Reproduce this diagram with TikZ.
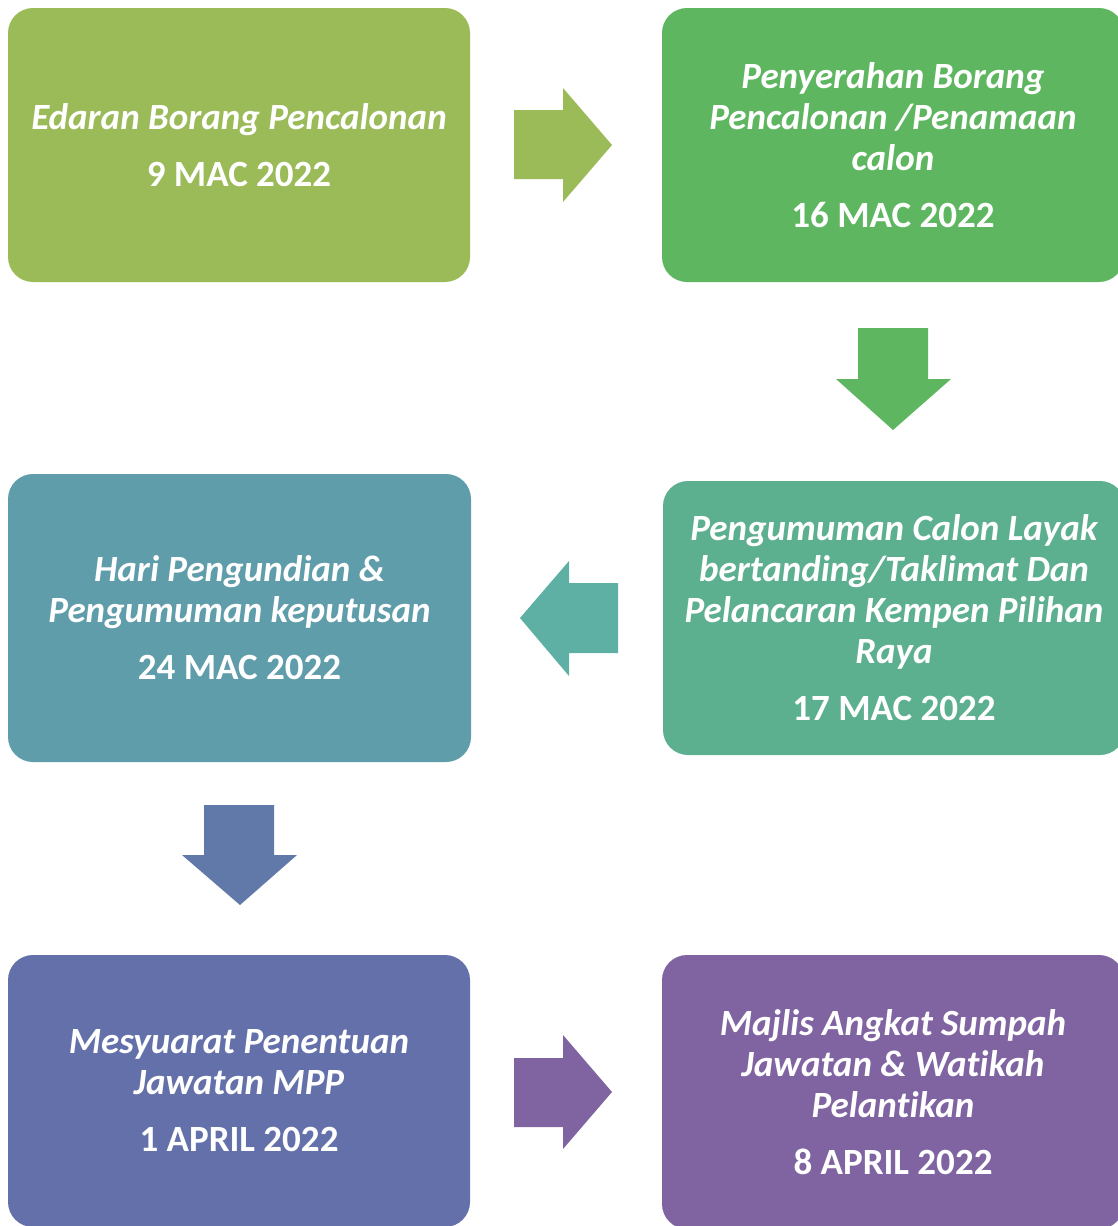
\documentclass[tikz,border=0pt]{standalone}
\usepackage{fontspec}
\setmainfont[Ligatures=CommonOff]{Carlito}
\definecolor{cA}{HTML}{9BBB59}
\definecolor{cB}{HTML}{5FB660}
\definecolor{cC}{HTML}{5DB08F}
\definecolor{cCa}{HTML}{5EB0A5}
\definecolor{cD}{HTML}{609DAB}
\definecolor{cDa}{HTML}{6179A9}
\definecolor{cE}{HTML}{6470A9}
\definecolor{cF}{HTML}{8064A2}
\newcommand{\ttlfont}{\fontsize{37}{41}\selectfont\bfseries\itshape}
\newcommand{\dtfont}{\fontsize{37}{41}\selectfont\bfseries\upshape}
\begin{document}
\begin{tikzpicture}[x=1pt,y=-1pt]
\tikzset{
  stagebox/.style={rounded corners=25pt, fill=#1, text=white, align=center,
    minimum width=462pt, minimum height=274pt, inner sep=0pt, font=\ttlfont},
  bigarrow/.style={fill=#1, draw=none}
}
\useasboundingbox (0,0) rectangle (1117,1226);

\node[stagebox=cA] (b1) at (239,145)
  {Edaran Borang Pencalonan\\[16pt]{\dtfont 9 MAC 2022}};
\node[stagebox=cB] (b2) at (893,145)
  {Penyerahan Borang\\Pencalonan /Penamaan\\calon\\[16pt]{\dtfont 16 MAC 2022}};
\node[stagebox=cC] (b3) at (894,618)
  {Pengumuman Calon Layak\\bertanding/Taklimat Dan\\Pelancaran Kempen Pilihan\\Raya\\[16pt]{\dtfont 17 MAC 2022}};
\node[stagebox=cD, minimum width=463pt, minimum height=288pt] (b4) at (239.5,618)
  {Hari Pengundian \&\\Pengumuman keputusan\\[16pt]{\dtfont 24 MAC 2022}};
\node[stagebox=cE, minimum height=272pt] (b5) at (239,1091)
  {Mesyuarat Penentuan\\Jawatan MPP\\[16pt]{\dtfont 1 APRIL 2022}};
\node[stagebox=cF] (b6) at (893,1092)
  {Majlis Angkat Sumpah\\Jawatan \& Watikah\\Pelantikan\\[16pt]{\dtfont 8 APRIL 2022}};

\path[bigarrow=cA] (514,110) -- (563,110) -- (563,88) -- (612,145) -- (563,202) -- (563,179) -- (514,179) -- cycle;
\path[bigarrow=cB] (858,328) -- (928,328) -- (928,379) -- (951,379) -- (893,430) -- (836,379) -- (858,379) -- cycle;
\path[bigarrow=cCa] (618,583) -- (569,583) -- (569,561) -- (520,618) -- (569,676) -- (569,653) -- (618,653) -- cycle;
\path[bigarrow=cDa] (204,805) -- (274,805) -- (274,855) -- (297,855) -- (240,905) -- (182,855) -- (204,855) -- cycle;
\path[bigarrow=cF] (514,1058) -- (563,1058) -- (563,1035) -- (612,1092) -- (563,1149) -- (563,1127) -- (514,1127) -- cycle;
\end{tikzpicture}
\end{document}
